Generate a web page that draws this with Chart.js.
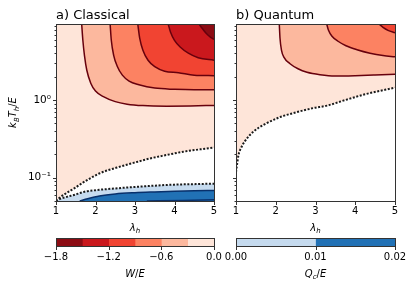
<!DOCTYPE html>
<html><head><meta charset="utf-8">
<script src="https://cdn.jsdelivr.net/npm/chart.js@4.4.1/dist/chart.umd.min.js"></script>
<style>
html,body{margin:0;padding:0;background:#fff;}
#wrap{position:relative;width:415px;height:288px;overflow:hidden;background:#fff;}
canvas{position:absolute;left:0;top:0;}
</style></head><body>
<div id="wrap">
<canvas id="ca" width="415" height="288"></canvas>
<canvas id="cb" width="415" height="288"></canvas>
<canvas id="cbarA" width="415" height="288"></canvas>
<canvas id="cbarB" width="415" height="288"></canvas>
</div>
<script>
// ---------------- data ----------------
const lambdaTicks = [1, 2, 3, 4, 5];
const yMajorTicks = [0.1, 1];
const yMinorTicks = [0.05,0.06,0.07,0.08,0.09,0.2,0.3,0.4,0.5,0.6,0.7,0.8,0.9,2,3,4,5,6,7,8,9];
const yMin = 0.05, yMax = 9.6;
const wLevels = [-1.8, -1.5, -1.2, -0.9, -0.6, -0.3, 0.0];
const wColors = ['#8c0c14', '#ca181d', '#f14432', '#fc8262', '#fcb89e', '#fee5d9'];
const wTicks = [-1.8, -1.2, -0.6, 0.0];
const qLevels = [0.00, 0.01, 0.02];
const qColors = ['#c6dbef', '#2171b5'];
const qTicks = [0.00, 0.01, 0.02];

// a) Classical : W/E contours (lambda_h, k_B T_h / E)
const clW0_lam  = [1.0, 1.1, 1.27, 1.5, 1.69, 2.11, 2.54, 2.96, 3.38, 3.8, 4.22, 4.65, 5.0];
const clW0_T    = [0.05, 0.0556, 0.0635, 0.0748, 0.0868, 0.114, 0.135, 0.155, 0.177, 0.196, 0.216, 0.232, 0.245];
const clW03_lam = [1.65, 1.68, 1.72, 1.78, 1.88, 2.0, 2.2, 2.5, 2.8, 3.2, 3.8, 4.4, 5.0];
const clW03_T   = [9.6, 5.92, 3.79, 2.43, 1.655, 1.31, 1.11, 0.956, 0.888, 0.85, 0.837, 0.842, 0.855];
const clW06_lam = [2.37, 2.40, 2.46, 2.55, 2.68, 2.85, 3.1, 3.5, 4.0, 4.5, 5.0];
const clW06_T   = [9.6, 5.92, 3.79, 2.74, 2.10, 1.76, 1.58, 1.43, 1.38, 1.36, 1.36];
const clW09_lam = [3.07, 3.12, 3.2, 3.33, 3.5, 3.75, 4.1, 4.5, 5.0];
const clW09_T   = [9.6, 6.27, 4.40, 3.27, 2.70, 2.36, 2.26, 2.10, 2.07];
const clW12_lam = [3.84, 3.9, 4.0, 4.15, 4.35, 4.6, 5.0];
const clW12_T   = [9.6, 7.52, 5.92, 4.81, 4.03, 3.52, 3.27];
const clW15_lam = [4.62, 4.7, 4.8, 4.9, 5.0];
const clW15_T   = [9.6, 8.45, 7.28, 6.56, 6.09];
// a) Classical : Q_c/E contours
const clQ0_lam  = [1.0, 1.1, 1.27, 1.5, 1.7, 2.0, 2.5, 3.0, 3.5, 4.0, 4.5, 5.0];
const clQ0_T    = [0.05, 0.0532, 0.0565, 0.0608, 0.0655, 0.0689, 0.0726, 0.0759, 0.0789, 0.0813, 0.0825, 0.0837];
const clQ1_lam  = [1.6, 1.8, 2.1, 2.5, 3.0, 3.5, 4.0, 4.5, 5.0];
const clQ1_T    = [0.05, 0.0535, 0.0581, 0.0617, 0.0640, 0.0655, 0.0668, 0.0678, 0.0684];
const clQ2_lam  = [3.3, 4.2, 5.0];
const clQ2_T    = [0.05, 0.0508, 0.052];

// b) Quantum : W/E contours
const qW0_lam  = [1.0, 1.025, 1.063, 1.126, 1.226, 1.428, 1.73, 2.107, 2.535, 2.937, 3.29, 3.74, 4.245, 5.0];
const qW0_T    = [0.118, 0.146, 0.196, 0.241, 0.297, 0.388, 0.491, 0.604, 0.701, 0.789, 0.850, 1.0, 1.19, 1.45];
const qW03_lam = [2.089, 2.107, 2.145, 2.208, 2.359, 2.56, 2.786, 3.113, 3.49, 3.994, 4.497, 5.0];
const qW03_T   = [9.6, 6.28, 4.40, 3.57, 2.95, 2.54, 2.29, 2.13, 2.05, 2.07, 2.11, 2.16];
const qW06_lam = [3.282, 3.327, 3.415, 3.566, 3.767, 4.044, 4.371, 4.698, 5.0];
const qW06_T   = [9.6, 7.96, 6.66, 5.75, 5.03, 4.47, 4.03, 3.76, 3.63];
const qW09_lam = [4.598, 4.698, 4.824, 5.0];
const qW09_T   = [9.6, 8.70, 7.96, 7.39];

// ---------------- helpers ----------------
Chart.defaults.font.family = '"DejaVu Sans", sans-serif';
Chart.defaults.font.size = 10;
Chart.defaults.color = '#000';
Chart.defaults.animation = false;

const LINE_RED = '#67000d', LINE_BLUE = '#08306b', LINE_DOT = '#1a1a1a';

function pts(xs, ys) { return xs.map((x, i) => ({ x: x, y: ys[i] })); }
function contour(xs, ys, color, fillColor, fillTarget, order, dotted) {
  return {
    type: 'line', data: pts(xs, ys), order: order,
    borderColor: color, borderWidth: dotted ? 2 : 1.5,
    borderDash: dotted ? [2, 1.6] : [],
    borderCapStyle: 'butt', borderJoinStyle: 'round',
    fill: fillColor ? fillTarget : false,
    backgroundColor: fillColor || 'rgba(0,0,0,0)',
    pointRadius: 0, cubicInterpolationMode: 'monotone'
  };
}

function drawRich(ctx, it) {
  ctx.save();
  ctx.translate(it.x, it.y);
  if (it.rot) ctx.rotate(it.rot);
  const base = it.size || 10;
  let w = 0;
  const parts = it.parts.map(p => {
    const sz = p.sub ? base * 0.7 : base;
    const font = (p.it ? 'italic ' : '') + sz + 'px "DejaVu Sans"';
    ctx.font = font;
    const pw = ctx.measureText(p.t).width;
    w += pw;
    return { t: p.t, font: font, w: pw, dy: p.sub ? base * 0.25 : 0 };
  });
  let x = it.align === 'left' ? 0 : -w / 2;
  ctx.fillStyle = '#000';
  ctx.textBaseline = 'alphabetic';
  ctx.textAlign = 'left';
  parts.forEach(p => { ctx.font = p.font; ctx.fillText(p.t, x, p.dy); x += p.w; });
  ctx.restore();
}

const lamTitle = [{ t: 'λ', it: 1 }, { t: 'h', it: 1, sub: 1 }];
const DECO = {
  ca: { frame: true, xTicks: lambdaTicks, yMajor: yMajorTicks, yMinor: yMinorTicks,
        texts: [
          { x: 56, y: 18.5, align: 'left', size: 13, parts: [{ t: 'a) Classical' }] },
          { x: 135, y: 230.5, parts: lamTitle },
          { x: 16, y: 112.5, rot: -Math.PI / 2, parts: [{ t: 'k', it: 1 }, { t: 'B', it: 1, sub: 1 }, { t: 'T', it: 1 }, { t: 'h', it: 1, sub: 1 }, { t: '/', it: 0 }, { t: 'E', it: 1 }] }
        ] },
  cb: { frame: true, xTicks: lambdaTicks, yMajor: yMajorTicks, yMinor: yMinorTicks,
        texts: [
          { x: 236, y: 18.5, align: 'left', size: 13, parts: [{ t: 'b) Quantum' }] },
          { x: 315.5, y: 230.5, parts: lamTitle }
        ] },
  cbarA: { frame: true, xTicks: wTicks,
        texts: [{ x: 135, y: 276.5, parts: [{ t: 'W', it: 1 }, { t: '/', it: 0 }, { t: 'E', it: 1 }] }] },
  cbarB: { frame: true, xTicks: qTicks,
        texts: [{ x: 315.5, y: 276.5, parts: [{ t: 'Q', it: 1 }, { t: 'c', it: 1, sub: 1 }, { t: '/', it: 0 }, { t: 'E', it: 1 }] }] }
};

const decoPlugin = {
  id: 'deco',
  afterDraw(chart) {
    const o = DECO[chart.canvas.id];
    if (!o) return;
    const ctx = chart.ctx, a = chart.chartArea;
    const L = Math.round(a.left) + 0.5, R = Math.round(a.right) + 0.5;
    const T = Math.round(a.top) + 0.5, B = Math.round(a.bottom) + 0.5;
    ctx.save();
    ctx.strokeStyle = '#333'; ctx.lineWidth = 1;
    const xs = chart.scales.x, ys = chart.scales.y;
    ctx.beginPath();
    (o.xTicks || []).forEach(v => { const p = Math.round(xs.getPixelForValue(v)) + 0.5; ctx.moveTo(p, B); ctx.lineTo(p, B + 3.5); });
    (o.yMajor || []).forEach(v => { const p = Math.round(ys.getPixelForValue(v)) + 0.5; ctx.moveTo(L, p); ctx.lineTo(L - 3.5, p); });
    ctx.stroke();
    ctx.beginPath();
    (o.yMinor || []).forEach(v => { const p = Math.round(ys.getPixelForValue(v)) + 0.5; ctx.moveTo(L, p); ctx.lineTo(L - 2, p); });
    ctx.stroke();
    if (o.frame) ctx.strokeRect(L, T, R - L, B - T);
    ctx.restore();
    (o.texts || []).forEach(t => drawRich(ctx, t));
  }
};
Chart.register(decoPlugin);

const isPow10 = v => Math.abs(Math.log10(v) - Math.round(Math.log10(v))) < 1e-9;
const supMap = { '-': '⁻', '0': '⁰', '1': '¹', '2': '²', '3': '³' };
function powLabel(v) {
  const e = String(Math.round(Math.log10(v)));
  return '10' + e.split('').map(c => supMap[c]).join('');
}

function panelConfig(datasets, padLeft, yWidth, padRight, showYLabels) {
  return {
    type: 'line',
    data: { datasets: datasets },
    options: {
      responsive: false, animation: false, events: [],
      layout: { padding: { left: padLeft, right: padRight, top: 24, bottom: 48 } },
      plugins: { legend: { display: false }, tooltip: { enabled: false } },
      scales: {
        x: {
          type: 'linear', min: 1, max: 5, position: 'bottom',
          afterFit: s => { s.height = 39; },
          afterBuildTicks: s => { s.ticks = lambdaTicks.map(v => ({ value: v })); },
          grid: { display: false, drawTicks: false }, border: { display: false },
          ticks: { padding: 4.5, autoSkip: false, maxRotation: 0, color: '#000', font: { size: 10 },
                   callback: v => String(v) }
        },
        y: {
          type: 'logarithmic', min: yMin, max: yMax, position: 'left',
          afterFit: s => { s.width = yWidth; },
          afterBuildTicks: s => { s.ticks = yMajorTicks.map(v => ({ value: v })); },
          grid: { display: false, drawTicks: false }, border: { display: false },
          ticks: { display: showYLabels, padding: 5, autoSkip: false, color: '#000', font: { size: 10.5 },
                   callback: v => isPow10(v) ? powLabel(v) : '' }
        }
      }
    }
  };
}

// Panel a: Classical
new Chart(document.getElementById('ca'), panelConfig([
  contour(clW0_lam, clW0_T, LINE_DOT, wColors[5], 'end', 20, true),
  contour(clW03_lam, clW03_T, LINE_RED, wColors[4], 'end', 19, false),
  contour(clW06_lam, clW06_T, LINE_RED, wColors[3], 'end', 18, false),
  contour(clW09_lam, clW09_T, LINE_RED, wColors[2], 'end', 17, false),
  contour(clW12_lam, clW12_T, LINE_RED, wColors[1], 'end', 16, false),
  contour(clW15_lam, clW15_T, LINE_RED, wColors[0], 'end', 15, false),
  contour(clQ0_lam, clQ0_T, LINE_DOT, qColors[0], 'start', 14, true),
  contour(clQ1_lam, clQ1_T, LINE_BLUE, qColors[1], 'start', 13, false),
  contour(clQ2_lam, clQ2_T, LINE_BLUE, null, false, 12, false)
], 0, 56, 201, true));

// Panel b: Quantum
new Chart(document.getElementById('cb'), panelConfig([
  contour(qW0_lam, qW0_T, LINE_DOT, wColors[5], 'end', 20, true),
  contour(qW03_lam, qW03_T, LINE_RED, wColors[4], 'end', 19, false),
  contour(qW06_lam, qW06_T, LINE_RED, wColors[3], 'end', 18, false),
  contour(qW09_lam, qW09_T, LINE_RED, wColors[2], 'end', 17, false)
], 222, 14, 20, false));

// Colorbars
function colorbarConfig(levels, colors, ticks, padLeft, padRight, digits) {
  const datasets = colors.map((c, i) => ({
    data: [[levels[i], levels[i + 1]]], backgroundColor: c, borderWidth: 0,
    grouped: false, barPercentage: 1, categoryPercentage: 1
  }));
  return {
    type: 'bar',
    data: { labels: ['cb'], datasets: datasets },
    options: {
      indexAxis: 'y', responsive: false, animation: false, events: [],
      layout: { padding: { left: padLeft, right: padRight, top: 238, bottom: 0 } },
      plugins: { legend: { display: false }, tooltip: { enabled: false } },
      scales: {
        x: {
          type: 'linear', min: levels[0], max: levels[levels.length - 1], position: 'bottom',
          afterFit: s => { s.height = 42; },
          afterBuildTicks: s => { s.ticks = ticks.map(v => ({ value: v })); },
          grid: { display: false, drawTicks: false }, border: { display: false },
          ticks: { padding: 5, autoSkip: false, maxRotation: 0, color: '#000', font: { size: 10 },
                   callback: v => v.toFixed(digits).replace('-', '\u2212') }
        },
        y: { display: false, afterFit: s => { s.width = 0; } }
      }
    }
  };
}
new Chart(document.getElementById('cbarA'), colorbarConfig(wLevels, wColors, wTicks, 56, 201, 1));
new Chart(document.getElementById('cbarB'), colorbarConfig(qLevels, qColors, qTicks, 236, 20, 2));
</script>
</body></html>
